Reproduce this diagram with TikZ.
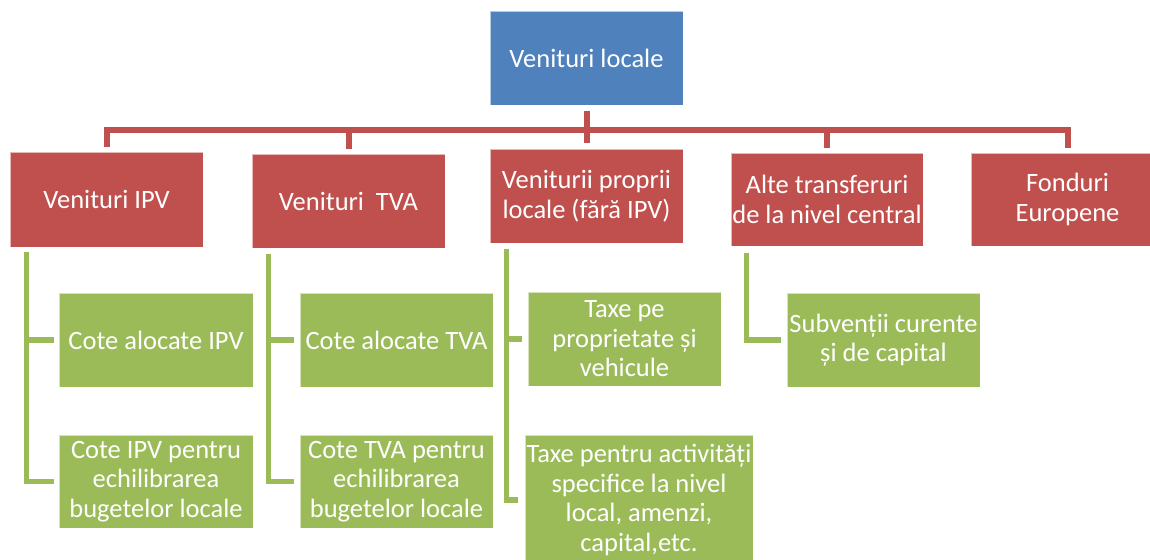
\documentclass[tikz,border=0pt]{standalone}
\usepackage{fontspec}
\setmainfont{Carlito}
\usetikzlibrary{calc}
\definecolor{cblue}{HTML}{4F81BD}
\definecolor{cred}{HTML}{C0504D}
\definecolor{cgreen}{HTML}{9BBB59}
\begin{document}
\begin{tikzpicture}[x=1pt,y=-1pt,
  box/.style={rectangle, inner sep=0pt, align=center, text=white,
    font=\fontsize{26.5}{29.5}\selectfont, draw=white, draw opacity=0.6, line width=0.6pt},
  bluebox/.style={box, fill=cblue},
  redbox/.style={box, fill=cred},
  greenbox/.style={box, fill=cgreen},
  redline/.style={draw=cred, line width=6pt, line join=miter},
  greenline/.style={draw=cgreen, line width=5.5pt, line join=miter}]
\path[use as bounding box] (0,0) rectangle (1150,559);
\clip (0,0) rectangle (1150,559);

% top
\node[bluebox, minimum width=193pt, minimum height=94pt] (top) at (586.5,58) {Venituri locale};

% second level
\node[redbox, minimum width=193pt, minimum height=95pt] (r1) at (106.5,199.5) {Venituri IPV};
\node[redbox, minimum width=193pt, minimum height=94pt] (r2) at (348.5,201) {Venituri\ \ TVA};
\node[redbox, minimum width=193pt, minimum height=94pt] (r3) at (586.5,196) {Veniturii proprii\\locale (fără IPV)};
\node[redbox, minimum width=192pt, minimum height=93pt] (r4) at (827,199.5) {Alte transferuri\\de la nivel central};
\node[redbox, minimum width=193pt, minimum height=93pt] (r5) at (1067.5,199.5) {Fonduri\\Europene};

% third level
\node[greenbox, minimum width=194pt, minimum height=94pt] (g1a) at (156,340) {Cote alocate IPV};
\node[greenbox, minimum width=194pt, minimum height=93pt] (g1b) at (156,481.5) {Cote IPV pentru\\echilibrarea\\bugetelor locale};
\node[greenbox, minimum width=193pt, minimum height=94pt] (g2a) at (396.5,340) {Cote alocate TVA};
\node[greenbox, minimum width=193pt, minimum height=93pt] (g2b) at (396.5,481.5) {Cote TVA pentru\\echilibrarea\\bugetelor locale};
\node[greenbox, minimum width=193pt, minimum height=94pt] (g3a) at (624.5,339) {Taxe pe\\proprietate și\\vehicule};
\node[greenbox, minimum width=228pt, minimum height=130pt] (g3b) at (639,500) {Taxe pentru activități\\specifice la nivel\\local, amenzi,\\capital,etc.};
\node[greenbox, minimum width=193pt, minimum height=94pt] (g4) at (883.5,340) {Subvenții curente\\și de capital};

% red connectors
\coordinate (bus) at (0,130);
\draw[redline, shorten <=5pt, shorten >=5pt]
  (r1.north) -- (r1.north |- bus) -- (r5.north |- bus) -- (r5.north);
\draw[redline, shorten >=5pt] (r2.north |- bus) -- (r2.north);
\draw[redline, shorten >=5pt] (r4.north |- bus) -- (r4.north);
\draw[redline, shorten <=6pt, shorten >=6pt] (top.south) -- (r3.north);

% green connectors
\draw[greenline, shorten <=5pt, shorten >=5pt] ([xshift=17pt]r1.south west) |- (g1a.west);
\draw[greenline, shorten <=5pt, shorten >=5pt] ([xshift=17pt]r1.south west) |- (g1b.west);
\draw[greenline, shorten <=6pt, shorten >=6pt] ([xshift=17pt]r2.south west) |- (g2a.west);
\draw[greenline, shorten <=6pt, shorten >=6pt] ([xshift=17pt]r2.south west) |- (g2b.west);
\draw[greenline, shorten <=6pt, shorten >=6pt] ([xshift=17pt]r3.south west) |- (g3a.west);
\draw[greenline, shorten <=6pt, shorten >=7pt] ([xshift=17pt]r3.south west) |- (g3b.west);
\draw[greenline, shorten <=7pt, shorten >=6pt] ([xshift=16pt]r4.south west) |- (g4.west);
\end{tikzpicture}
\end{document}
